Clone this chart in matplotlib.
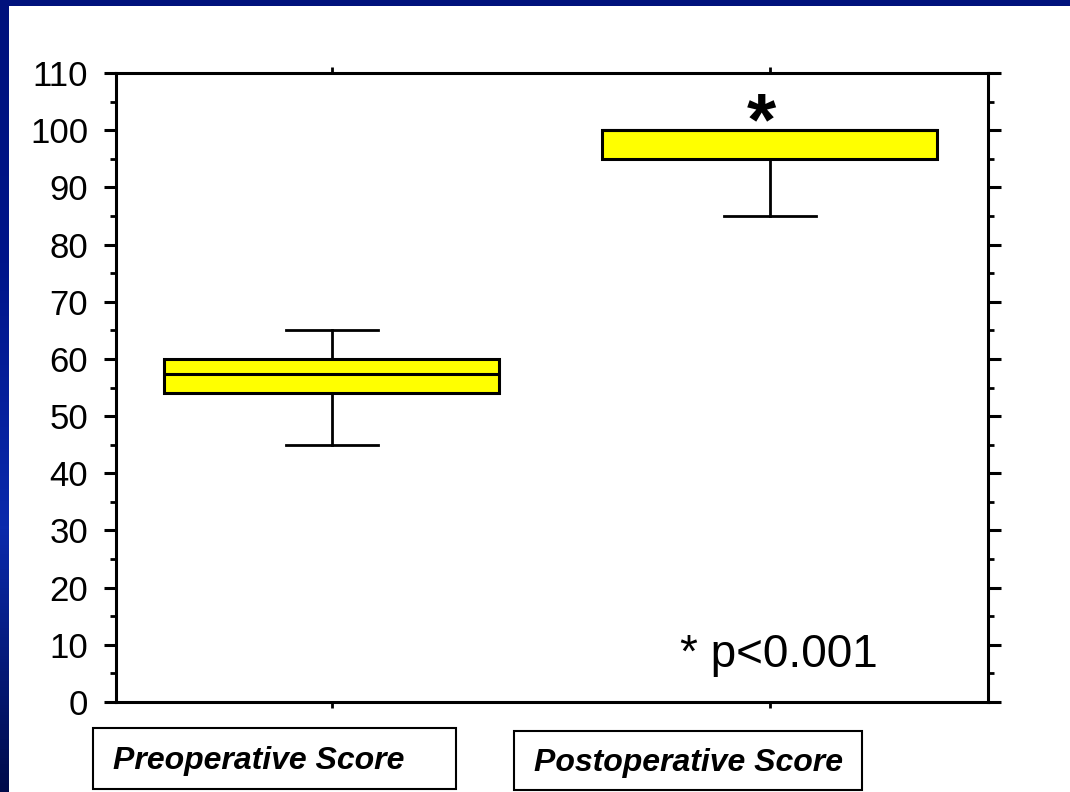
import numpy as np
import matplotlib
matplotlib.use("Agg")
import matplotlib.pyplot as plt
from matplotlib.patches import Rectangle
from matplotlib.colors import LinearSegmentedColormap

plt.rcParams['font.family'] = ['Liberation Sans', 'DejaVu Sans']

# summary statistics for each score
groups = ['Preoperative Score', 'Postoperative Score']
q1 = [54, 95]
median = [57.4, 100]
q3 = [60, 100]
whisker_lo = [45, 85]
whisker_hi = [65, 100]
yticks = list(range(0, 111, 10))

fig = plt.figure(figsize=(10.7, 7.92), dpi=100)
fig.patch.set_facecolor('white')

# slide background: blue gradient frame on top and left
bg = fig.add_axes([0, 0, 1, 1], zorder=-10)
bg.axis('off')
cmap = LinearSegmentedColormap.from_list('slide', ['#000b4a', '#0a2aac', '#00158a', '#00127c'])
grad = np.linspace(0, 1, 256).reshape(-1, 1)
bg.imshow(grad, aspect='auto', cmap=cmap, origin='lower', extent=[0, 1, 0, 1])
bg.add_patch(Rectangle((9 / 1070, 0), 1, 1 - 6 / 792, facecolor='white', edgecolor='none'))
bg.set_xlim(0, 1)
bg.set_ylim(0, 1)

ax = fig.add_axes([116 / 1070, 1 - 702 / 792, 872 / 1070, 629 / 792])
stats = []
for i in range(len(groups)):
    stats.append({'q1': q1[i], 'med': median[i], 'q3': q3[i],
                  'whislo': whisker_lo[i], 'whishi': whisker_hi[i], 'label': groups[i]})
ax.bxp(stats, positions=[1, 2], widths=0.765, capwidths=0.21, patch_artist=True,
       showfliers=False,
       boxprops=dict(facecolor='#ffff00', edgecolor='black', linewidth=2.2),
       medianprops=dict(color='black', linewidth=2.2),
       whiskerprops=dict(color='black', linewidth=2),
       capprops=dict(color='black', linewidth=2))

ax.set_xlim(0.507, 2.498)
ax.set_ylim(0, 110)
ax.set_yticks(yticks)
ax.set_yticks(range(5, 110, 10), minor=True)
ax.set_yticklabels([str(t) for t in yticks], fontsize=25)
ax.set_xticks([1, 2])
ax.set_xticklabels([])
for s in ax.spines.values():
    s.set_linewidth(2.2)
ax.tick_params(axis='y', which='major', direction='out', length=9, width=2.2,
               left=True, right=True, pad=11)
ax.tick_params(axis='y', which='minor', direction='out', length=4.5, width=2,
               left=True, right=True)
ax.tick_params(axis='x', which='major', direction='out', length=4.5, width=2,
               bottom=True, top=True)

ax.text(1.98, 97.5, '*', fontsize=54, fontweight='bold', ha='center', va='baseline')
ax.text(2.02, 8.3, '* p<0.001', fontsize=33, ha='center', va='center')

# category name boxes under the axis
label_boxes = [(93, 728, 363, 61), (514, 731, 348, 59)]
for name, (x0, y0, w, h) in zip(groups, label_boxes):
    fig.patches.append(Rectangle((x0 / 1070, 1 - (y0 + h) / 792), w / 1070, h / 792,
                                 transform=fig.transFigure, facecolor='white',
                                 edgecolor='black', linewidth=1.5))
    fig.text((x0 + 20) / 1070, 1 - (y0 + h / 2 + 2) / 792, name, fontsize=23,
             fontweight='bold', fontstyle='italic', ha='left', va='center')

fig.savefig('out.png', dpi=100)
